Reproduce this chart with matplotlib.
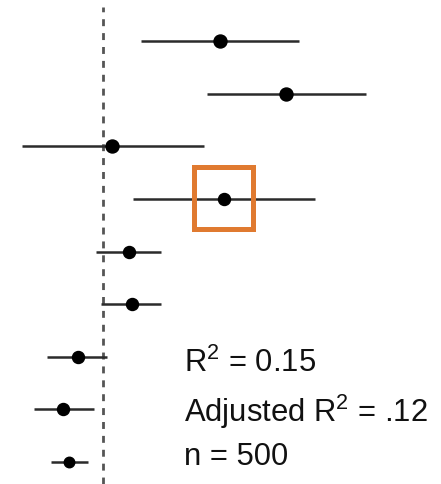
import numpy as np
import matplotlib
matplotlib.use("Agg")
import matplotlib.pyplot as plt
from matplotlib.patches import Rectangle

# coefficient estimates with their intervals, top row first
est = [1.17, 1.83, 0.09, 1.21, 0.26, 0.28, -0.25, -0.40, -0.34]
lo = [0.38, 1.04, -0.82, 0.30, -0.07, -0.02, -0.56, -0.70, -0.52]
hi = [1.96, 2.62, 1.01, 2.12, 0.58, 0.58, 0.04, -0.09, -0.15]
msize = [13, 13, 13, 12, 12, 12, 12, 12, 10.5]
stats = ["R$^2$ = 0.15", "Adjusted R$^2$ = .12", "n = 500"]
stat_y = [2.71, 1.76, 0.94]

plt.rcParams['font.family'] = ['Liberation Sans', 'DejaVu Sans']
plt.rcParams['mathtext.default'] = 'regular'

fig = plt.figure(figsize=(4.41, 4.84), dpi=100)
ax = fig.add_axes([0, 0, 1, 1])

n = len(est)
ypos = np.arange(n, 0, -1)

ax.axvline(0, ymin=0, ymax=(9.78 - 0.582 - 0.13) / (9.78 - 0.582), color='#555555',
           lw=2, ls=(0, (2.5, 2.5)), zorder=1)

for y, e, l, h, m in zip(ypos, est, lo, hi, msize):
    ax.plot([l, h], [y, y], color='#2b2b2b', lw=1.8, solid_capstyle='butt', zorder=2)
    ax.plot(e, y, 'o', color='black', ms=m * 0.72, zorder=3)

# highlight box around the fourth estimate
ax.add_patch(Rectangle((0.91, 5.435), 0.59, 1.179, fill=False,
                       edgecolor='#E07A30', lw=3.6, zorder=4))

for s, ty in zip(stats, stat_y):
    ax.text(0.80, ty, s, fontsize=22.3, va='baseline', ha='left', color='#111111')

ax.set_xlim(-1.035, 3.375)
ax.set_ylim(0.582, 9.78)
ax.axis('off')

fig.savefig('out.png', dpi=100)
